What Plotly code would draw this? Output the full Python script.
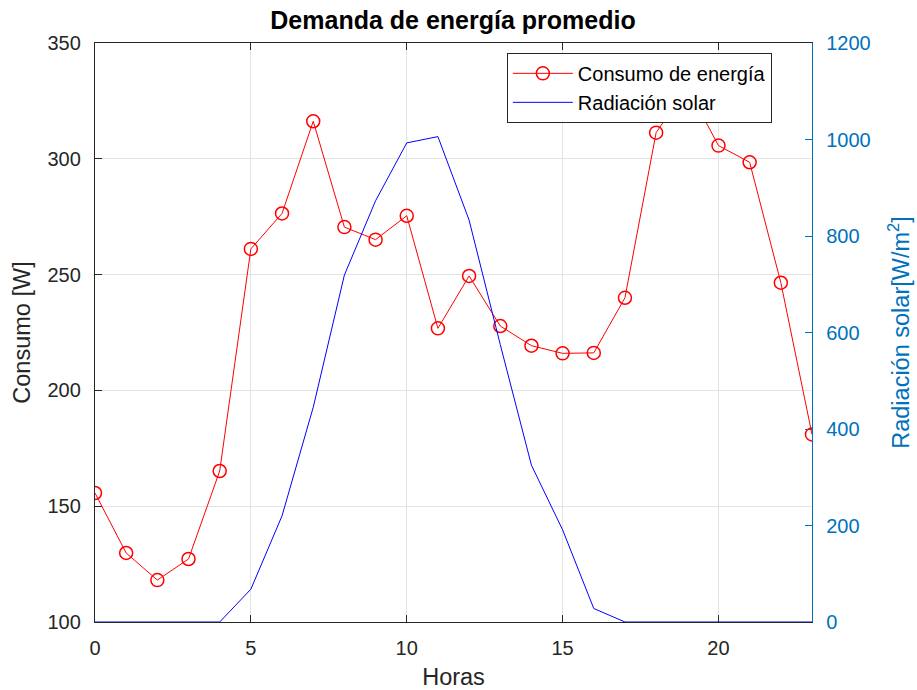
import plotly.graph_objects as go

# Hourly averages over a day
horas = list(range(24))
consumo = [155.7, 129.8, 118.1, 127.2, 165.2, 261.1, 276.4, 316.2, 270.5, 265.1,
           275.4, 226.8, 249.4, 227.8, 219.3, 216.0, 216.2, 240.0, 311.3, 330.9,
           305.7, 298.5, 246.5, 181.0]
radiacion = [0, 0, 0, 0, 0, 68, 220, 445, 719, 873,
             993, 1006, 833, 575, 325, 191, 28, 0, 0, 0,
             0, 0, 0, 0]

FONT = "Liberation Sans, Arial, Helvetica, sans-serif"
AX = "#262626"
AX2 = "#0072BD"
GRID = "#e3e3e3"

fig = go.Figure()

fig.add_trace(go.Scatter(
    x=horas, y=consumo, name="Consumo de energía",
    mode="lines+markers",
    line=dict(color="#ff0000", width=1),
    marker=dict(symbol="circle-open", size=13, color="#ff0000",
                line=dict(width=1.5, color="#ff0000")),
    yaxis="y",
))

fig.add_trace(go.Scatter(
    x=horas, y=radiacion, name="Radiación solar",
    mode="lines",
    line=dict(color="#0000ff", width=1),
    yaxis="y2",
    cliponaxis=False,
))

fig.update_layout(
    width=917, height=690,
    margin=dict(l=95, r=105, t=43, b=68, pad=0),
    paper_bgcolor="white", plot_bgcolor="white",
    font=dict(family=FONT, size=20, color=AX),
    title=dict(text="<b>Demanda de energía promedio</b>",
               font=dict(family=FONT, size=25, color="#000000"),
               x=0.494, xanchor="center", y=0.970, yanchor="middle"),
    showlegend=True,
    legend=dict(x=0.944, xanchor="right", y=0.983, yanchor="top",
                bgcolor="white", bordercolor=AX, borderwidth=1,
                font=dict(family=FONT, size=20, color="#000000"),
                tracegroupgap=0, itemwidth=60),
    xaxis=dict(
        range=[0, 23], tick0=0, dtick=5,
        showline=True, linecolor=AX, linewidth=1.3, mirror="ticks",
        ticks="inside", ticklen=7, tickcolor=AX, tickwidth=1.3,
        showgrid=True, gridcolor=GRID, gridwidth=1,
        zeroline=False, layer="below traces",
        tickfont=dict(size=20, color=AX),
        ticklabelstandoff=8,
        title=dict(text="Horas", font=dict(size=23.5, color=AX), standoff=12),
        automargin=False,
    ),
    yaxis=dict(
        range=[100, 350], tick0=100, dtick=50,
        showline=True, linecolor=AX, linewidth=1.3,
        ticks="inside", ticklen=7, tickcolor=AX, tickwidth=1.3,
        showgrid=True, gridcolor=GRID, gridwidth=1,
        zeroline=False, layer="below traces",
        tickfont=dict(size=20, color=AX),
        ticklabelstandoff=9,
        title=dict(text="Consumo [W]", font=dict(size=23.5, color=AX), standoff=10),
        automargin=False,
    ),
    yaxis2=dict(
        range=[0, 1200], tick0=0, dtick=200,
        overlaying="y", side="right", anchor="x",
        showline=True, linecolor=AX2, linewidth=1.3,
        ticks="inside", ticklen=7, tickcolor=AX2, tickwidth=1.3,
        showgrid=False, zeroline=False, layer="below traces",
        tickfont=dict(size=20, color=AX2),
        ticklabelstandoff=9,
        title=dict(text="Radiación solar[W/m<sup>2</sup>]",
                   font=dict(size=23.5, color=AX2), standoff=22),
        automargin=False,
    ),
)

fig.write_html("out.html")
